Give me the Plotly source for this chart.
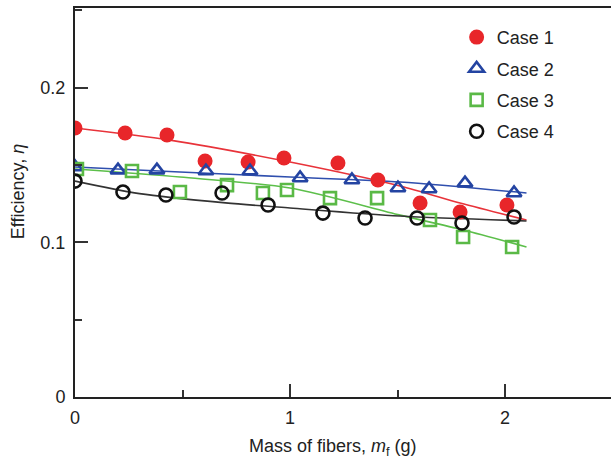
import plotly.graph_objects as go

# ---- data ----
x_case1 = [0.0, 0.233, 0.428, 0.605, 0.805, 0.972, 1.223, 1.409, 1.605, 1.791, 2.009]
y_case1 = [0.1739, 0.1707, 0.1694, 0.1526, 0.1519, 0.1545, 0.1513, 0.1403, 0.1254, 0.1196, 0.1241]

x_case2 = [0.0, 0.200, 0.381, 0.609, 0.814, 1.047, 1.288, 1.502, 1.647, 1.814, 2.042]
y_case2 = [0.1487, 0.1467, 0.1467, 0.1461, 0.1461, 0.1416, 0.1403, 0.1351, 0.1345, 0.1383, 0.1319]

x_case3 = [0.009, 0.265, 0.488, 0.707, 0.874, 0.986, 1.186, 1.405, 1.651, 1.805, 2.033]
y_case3 = [0.1474, 0.1461, 0.1325, 0.1370, 0.1319, 0.1338, 0.1286, 0.1286, 0.1144, 0.1034, 0.0970]

x_case4 = [0.0, 0.223, 0.423, 0.684, 0.898, 1.153, 1.349, 1.591, 1.800, 2.042]
y_case4 = [0.1396, 0.1325, 0.1306, 0.1319, 0.1241, 0.1189, 0.1157, 0.1157, 0.1125, 0.1164]

# fitted curves
fit1_x = [0.0, 0.442, 1.0, 1.512, 1.791, 2.10]
fit1_y = [0.1739, 0.1661, 0.1519, 0.1364, 0.1254, 0.1144]
fit2_x = [0.0, 0.488, 1.0, 1.512, 2.10]
fit2_y = [0.1487, 0.1455, 0.1422, 0.1390, 0.1319]
fit3_x = [0.0, 0.488, 1.0, 1.512, 1.805, 2.10]
fit3_y = [0.1474, 0.1422, 0.1351, 0.1176, 0.1080, 0.0970]
fit4_x = [0.0, 0.30, 0.70, 1.0, 1.512, 2.10]
fit4_y = [0.1396, 0.1315, 0.1255, 0.1222, 0.1170, 0.1138]

names = ["Case 1", "Case 2", "Case 3", "Case 4"]
x_ticks = [0, 1, 2]
y_ticks = [0, 0.1, 0.2]
y_tick_text = ["0", "0.1", "0.2"]

FONT = "Arial, 'Liberation Sans', Helvetica, sans-serif"
TXT = "#222222"

fig = go.Figure()

fits = [(fit1_x, fit1_y, "#e8333a"), (fit2_x, fit2_y, "#2f4fae"),
        (fit3_x, fit3_y, "#5cbf4a"), (fit4_x, fit4_y, "#333333")]
for fx, fy, c in fits:
    fig.add_trace(go.Scatter(x=fx, y=fy, mode="lines", line=dict(color=c, width=1.6, shape="spline", smoothing=0.8),
                             showlegend=False, hoverinfo="skip"))

markers = [
    (x_case1, y_case1, dict(symbol="circle", size=15, color="#e8262a", line=dict(width=0))),
    (x_case2, y_case2, dict(symbol="triangle-up-open", size=13, color="#2444a2", line=dict(width=2.6, color="#2444a2"))),
    (x_case3, y_case3, dict(symbol="square-open", size=12, color="#5ab946", line=dict(width=2.6, color="#5ab946"))),
    (x_case4, y_case4, dict(symbol="circle-open", size=13, color="#111111", line=dict(width=2.6, color="#111111"))),
]
for i, (mx, my, mk) in enumerate(markers):
    fig.add_trace(go.Scatter(x=mx, y=my, mode="markers", marker=mk, name=names[i],
                             legendgroup=names[i]))

axis_common = dict(showgrid=False, zeroline=False, showline=True, linecolor="#222222", linewidth=2,
                   ticks="inside", ticklen=13, tickwidth=2, tickcolor="#333333",
                   tickfont=dict(family=FONT, size=18, color=TXT))

fig.update_layout(
    width=611, height=463,
    margin=dict(l=75, r=0, t=8, b=66),
    paper_bgcolor="white", plot_bgcolor="white",
    font=dict(family=FONT, size=18, color=TXT),
    xaxis=dict(range=[0, 2.493], tickvals=x_ticks, ticktext=[str(v) for v in x_ticks], mirror=True,
               ticklabelstandoff=3,
               minor=dict(ticks="inside", ticklen=7, tickwidth=2, tickcolor="#333333", dtick=0.5, tick0=0),
               **axis_common),
    yaxis=dict(range=[0, 0.2515], tickvals=y_ticks, ticktext=y_tick_text, mirror=False,
               ticklabelstandoff=4,
               minor=dict(ticks="inside", ticklen=7, tickwidth=2, tickcolor="#333333", dtick=0.05, tick0=0),
               **axis_common),
    legend=dict(x=0.712, y=0.972, xanchor="left", yanchor="top", bgcolor="rgba(0,0,0,0)",
                font=dict(family=FONT, size=18, color=TXT), tracegroupgap=5,
                traceorder="grouped"),
    annotations=[
        dict(text="Mass of fibers, <i>m</i><sub>f</sub> (g)", xref="paper", yref="paper",
             x=0.481, y=-0.131, showarrow=False, font=dict(family=FONT, size=18, color=TXT),
             xanchor="center", yanchor="middle"),
        dict(text="Efficiency, <i>η</i>", xref="paper", yref="paper", textangle=-90,
             x=-0.106, y=0.527, showarrow=False, font=dict(family=FONT, size=18, color=TXT),
             xanchor="center", yanchor="middle"),
    ],
)

fig.write_html("out.html")
